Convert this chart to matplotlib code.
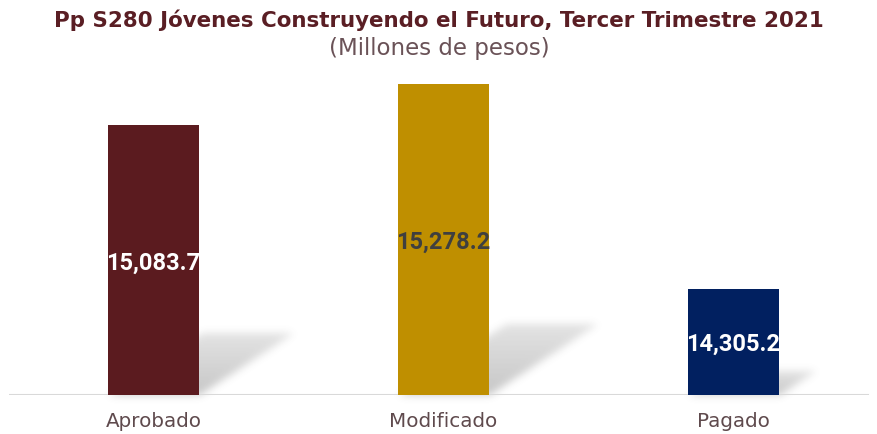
import numpy as np
import matplotlib
matplotlib.use("Agg")
import matplotlib.pyplot as plt
from matplotlib.transforms import offset_copy

categories = ["Aprobado", "Modificado", "Pagado"]
values = [15083.7, 15278.2, 14305.2]
value_labels = ["15,083.7", "15,278.2", "14,305.2"]
bar_colors = ["#5b1b1f", "#bf8f00", "#012060"]
label_colors = ["white", "#3f3f3f", "white"]
title = "Pp S280 Jóvenes Construyendo el Futuro, Tercer Trimestre 2021"
subtitle = "(Millones de pesos)"
ymin, ymax = 13800, 15350

W, H = 878, 435
fig = plt.figure(figsize=(W / 100, H / 100), dpi=100)
fig.patch.set_facecolor("white")

# background axes for shadows
ax_bg = fig.add_axes([0, 0, 1, 1], zorder=0)
ax_bg.set_axis_off()

ax = fig.add_axes([8.5 / W, (H - 395.7) / H, 870 / W, (395.7 - 70) / H], zorder=1)
ax.patch.set_alpha(0)
x = np.arange(len(categories))
bars = ax.bar(x, [v - ymin for v in values], bottom=ymin, width=0.314,
              color=bar_colors, zorder=3)
ax.set_xlim(-0.5, 2.5)
ax.set_ylim(ymin, ymax)
for s in ["top", "right", "left", "bottom"]:
    ax.spines[s].set_visible(False)
ax.axhline(ymin, xmin=0, xmax=859.5 / 870, color="#d9d9d9", lw=1.5, zorder=2)
ax.set_yticks([])
ax.set_xticks(x)
ax.set_xticklabels(categories, fontsize=14.3, color="#5f4a4d", family="DejaVu Sans")
ax.tick_params(axis="x", length=0, pad=12)

lab_tr = offset_copy(ax.transData, fig=fig, x=0, y=-2, units="dots")
for xi, v, lab, c in zip(x, values, value_labels, label_colors):
    ax.text(xi, (ymin + v) / 2, lab, ha="center", va="center", fontsize=17,
            fontweight="bold", color=c, family="Roboto", zorder=4, transform=lab_tr)

# shadows, computed from bar geometry in pixel space
img = np.zeros((H, W))
yy, xx = np.mgrid[0:H, 0:W]
for b in bars:
    (xl, yb), (xr, yt) = ax.transData.transform([[b.get_x(), ymin],
                                                  [b.get_x() + b.get_width(), ymin + b.get_height()]])
    yb_img = H - yb
    h = yt - yb
    hs = 0.23 * h
    dx = 0.35 * h
    t = (yb_img - yy) / hs
    inside = (t >= 0) & (t <= 1) & (xx >= xl + t * dx) & (xx <= xr + t * dx)
    img = np.maximum(img, np.where(inside, 0.34 * (1 - 0.5 * np.clip(t, 0, 1)), 0))

sigma = 4.0
k = np.arange(-12, 13)
kern = np.exp(-k ** 2 / (2 * sigma ** 2))
kern /= kern.sum()
img = np.apply_along_axis(lambda r: np.convolve(r, kern, mode="same"), 1, img)
img = np.apply_along_axis(lambda c: np.convolve(c, kern, mode="same"), 0, img)
rgba = np.zeros((H, W, 4))
rgba[..., :3] = 0.35
rgba[..., 3] = img
ax_bg.imshow(rgba, extent=(0, W, 0, H), origin="upper", aspect="auto", interpolation="nearest")
ax_bg.set_xlim(0, W)
ax_bg.set_ylim(0, H)

fig.text(0.5, 1 - 20 / H, title, ha="center", va="center", fontsize=15.4,
         fontweight="bold", color="#5a1e24", family="DejaVu Sans")
fig.text(0.5, 1 - 48 / H, subtitle, ha="center", va="center", fontsize=16.5,
         color="#6a5257", family="DejaVu Sans")

fig.savefig("out.png", dpi=100)
